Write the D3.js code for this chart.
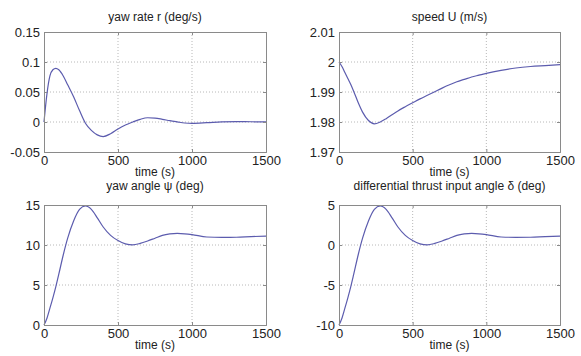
<!DOCTYPE html>
<html>
<head>
<meta charset="utf-8">
<script src="https://cdn.jsdelivr.net/npm/d3@7"></script>
<style>
  body { margin: 0; background: #fff; }
  text { font-family: "Liberation Sans", Arial, sans-serif; fill: #222; }
</style>
</head>
<body>
<svg id="fig" width="581" height="356"></svg>
<script>
// 時間軸
const time = [0, 20, 40, 60, 80, 100, 130, 160, 200, 240, 280, 320, 360, 400, 450, 500,
              550, 600, 650, 700, 750, 800, 850, 900, 950, 1000, 1100, 1200, 1300, 1400, 1500];

const yawRate = [0, 0.047, 0.0767, 0.087, 0.0894, 0.087, 0.0767, 0.062, 0.042, 0.019, -0.002,
                 -0.014, -0.0215, -0.0243, -0.0195, -0.0116, -0.005, 0.0, 0.0045, 0.0071, 0.0065,
                 0.0045, 0.0022, 0.0002, -0.0017, -0.0022, -0.0012, 0.0002, 0.0006, 0.0004, 0.0002];

const speed = [2.0, 1.9985, 1.9965, 1.9945, 1.9925, 1.9902, 1.9865, 1.9833, 1.9805, 1.9794, 1.98,
               1.9811, 1.9824, 1.9837, 1.9851, 1.9864, 1.9877, 1.9889, 1.9901, 1.9913, 1.9924,
               1.9934, 1.9942, 1.995, 1.9956, 1.9962, 1.9972, 1.998, 1.9985, 1.9988, 1.9991];

const yawAngle = [0, 0.85, 2.1, 3.4, 4.8, 6.35, 8.75, 10.85, 13.0, 14.45, 14.88, 14.45, 13.4, 12.25,
                  11.2, 10.55, 10.15, 10.02, 10.2, 10.5, 10.85, 11.2, 11.38, 11.45, 11.4, 11.3,
                  11.0, 10.96, 10.97, 11.05, 11.1];

const thrustAngle = [-10, -9.15, -7.9, -6.6, -5.2, -3.65, -1.25, 0.85, 3.0, 4.45, 4.88, 4.45, 3.4,
                     2.25, 1.2, 0.55, 0.15, 0.02, 0.2, 0.5, 0.85, 1.2, 1.38, 1.45, 1.4, 1.3,
                     1.0, 0.96, 0.97, 1.05, 1.1];

const xTicks = [0, 500, 1000, 1500];
const yawRateTicks = [-0.05, 0, 0.05, 0.1, 0.15];
const speedTicks = [1.97, 1.98, 1.99, 2, 2.01];
const yawAngleTicks = [0, 5, 10, 15];
const thrustTicks = [-10, -5, 0, 5];

const titles = ["yaw rate r (deg/s)", "speed U (m/s)", "yaw angle \u03c8 (deg)",
                "differential thrust input angle \u03b4 (deg)"];

// パネル配置
const panels = [
  {x0: 44,  x1: 266, y0: 32,  y1: 152, titleY: 20.5, values: yawRate,     ticks: yawRateTicks},
  {x0: 339, x1: 560, y0: 32,  y1: 152, titleY: 20.5, values: speed,       ticks: speedTicks},
  {x0: 44,  x1: 266, y0: 205, y1: 325, titleY: 189.5, values: yawAngle,   ticks: yawAngleTicks},
  {x0: 339, x1: 560, y0: 205, y1: 325, titleY: 189.5, values: thrustAngle, ticks: thrustTicks}
];

var svg = d3.select("#fig");

panels.forEach(function(p, i) {
    var x = d3.scaleLinear().domain([0, 1500]).range([p.x0, p.x1]);
    var y = d3.scaleLinear().domain(d3.extent(p.ticks)).range([p.y1, p.y0]);
    var g = svg.append("g");

    // グリッド
    g.selectAll(".gx").data(xTicks.slice(1, -1)).enter().append("line")
        .attr("x1", d => x(d)).attr("x2", d => x(d))
        .attr("y1", p.y0).attr("y2", p.y1)
        .attr("stroke", "#b8b8b8").attr("stroke-dasharray", "1,2");
    g.selectAll(".gy").data(p.ticks.slice(1, -1)).enter().append("line")
        .attr("x1", p.x0).attr("x2", p.x1)
        .attr("y1", d => y(d)).attr("y2", d => y(d))
        .attr("stroke", "#b8b8b8").attr("stroke-dasharray", "1,2");

    // 曲線
    var line = d3.line()
        .x((d, j) => x(time[j]))
        .y(d => y(d))
        .curve(d3.curveMonotoneX);
    g.append("path")
        .datum(p.values)
        .attr("d", line)
        .attr("fill", "none")
        .attr("stroke", "#5c5cae")
        .attr("stroke-width", 1.2);

    // 枠と目盛り
    var axB = d3.axisBottom(x).tickValues(xTicks).tickSize(-3).tickPadding(4).tickFormat(d3.format("d"));
    var axL = d3.axisLeft(y).tickValues(p.ticks).tickSize(-3).tickPadding(4).tickFormat(d => String(+d.toFixed(2)));
    var axT = d3.axisTop(x).tickValues(xTicks).tickSize(-3).tickFormat("");
    var axR = d3.axisRight(y).tickValues(p.ticks).tickSize(-3).tickFormat("");

    g.append("g").attr("transform", "translate(0," + p.y1 + ")").call(axB);
    g.append("g").attr("transform", "translate(" + p.x0 + ",0)").call(axL);
    g.append("g").attr("transform", "translate(0," + p.y0 + ")").call(axT);
    g.append("g").attr("transform", "translate(" + p.x1 + ",0)").call(axR);

    g.selectAll(".domain").attr("stroke", "#8a8a8a");
    g.selectAll(".tick line").attr("stroke", "#8a8a8a");
    g.selectAll(".tick text").style("font-size", "13px").attr("fill", "#222")
        .style("font-family", "'Liberation Sans', Arial, sans-serif");

    g.append("text")
        .attr("x", (p.x0 + p.x1) / 2).attr("y", p.titleY)
        .attr("text-anchor", "middle").style("font-size", "12px")
        .text(titles[i]);
    g.append("text")
        .attr("x", (p.x0 + p.x1) / 2).attr("y", p.y1 + 24)
        .attr("text-anchor", "middle").style("font-size", "12px")
        .text("time (s)");
});
</script>
</body>
</html>
